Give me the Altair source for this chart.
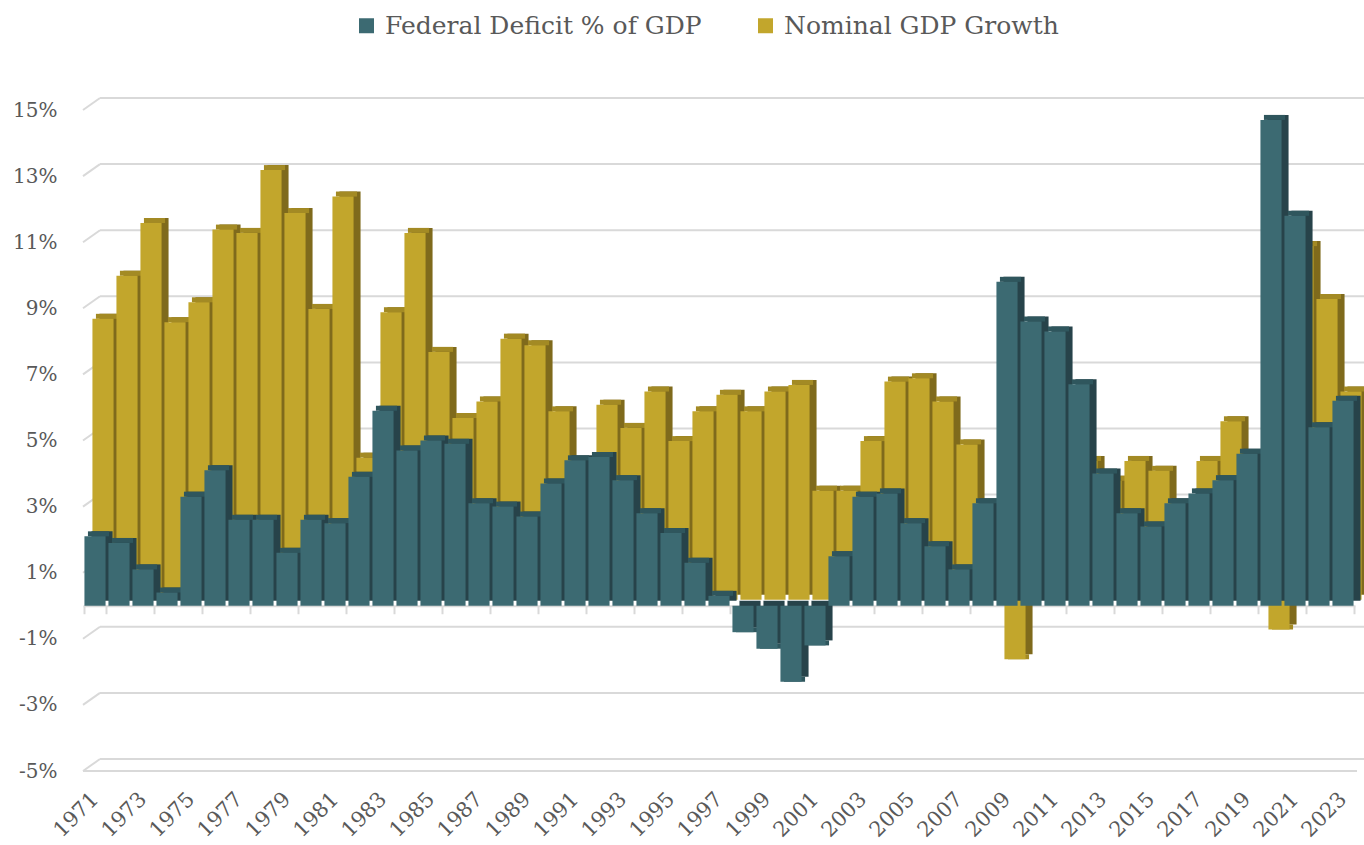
import altair as alt
import pandas as pd

years = list(range(1971, 2024))
deficit = [2.1, 1.9, 1.1, 0.4, 3.3, 4.1, 2.6, 2.6, 1.6, 2.6,
           2.5, 3.9, 5.9, 4.7, 5.0, 4.9, 3.1, 3.0, 2.7, 3.7,
           4.4, 4.5, 3.8, 2.8, 2.2, 1.3, 0.3, -0.8, -1.3, -2.3,
           -1.2, 1.5, 3.3, 3.4, 2.5, 1.8, 1.1, 3.1, 9.8, 8.6,
           8.3, 6.7, 4.0, 2.8, 2.4, 3.1, 3.4, 3.8, 4.6, 14.7,
           11.8, 5.4, 6.2]
growth = [8.5, 9.8, 11.4, 8.4, 9.0, 11.2, 11.1, 13.0, 11.7, 8.8,
          12.2, 4.3, 8.7, 11.1, 7.5, 5.5, 6.0, 7.9, 7.7, 5.7,
          3.3, 5.9, 5.2, 6.3, 4.8, 5.7, 6.2, 5.7, 6.3, 6.5,
          3.3, 3.3, 4.8, 6.6, 6.7, 6.0, 4.7, 2.0, -1.8, 3.9,
          3.7, 4.2, 3.6, 4.2, 3.9, 2.7, 4.2, 5.4, 4.2, -0.9,
          10.7, 9.1, 6.3]
series_names = ["Federal Deficit % of GDP", "Nominal GDP Growth"]
y_ticks = [-5, -3, -1, 1, 3, 5, 7, 9, 11, 13, 15]
label_years = [1971, 1973, 1975, 1977, 1979, 1981, 1983, 1985, 1987, 1989,
               1991, 1993, 1995, 1997, 1999, 2001, 2003, 2005, 2007, 2009,
               2011, 2013, 2015, 2017, 2019, 2021, 2023]

teal_df = pd.DataFrame({"year": years, "val": deficit, "series": series_names[0]})
gold_df = pd.DataFrame({"year": years, "val": growth, "series": series_names[1]})
grid_df = pd.DataFrame({"v": y_ticks})

W, H = 1272, 661
TEAL, TEAL_CAP, TEAL_SIDE = "#3C6A72", "#2F565D", "#27434A"
GOLD, GOLD_CAP, GOLD_SIDE = "#C2A62C", "#A38A24", "#7F6A1C"
GRID = "#D9D9D9"
FONT = "DejaVu Serif"
TXT = "#595959"

DEPTH_X, DEPTH_Y = 7, 5      # visible depth of each column
GOLD_DX, GOLD_DY = 8, 6      # gold series sits one row behind
WALL_DX, WALL_DY = 17, 12    # back wall offset

xscale = alt.Scale(domain=years, paddingInner=0.12, paddingOuter=0.06)
yscale = alt.Scale(domain=[-5, 15], nice=False, zero=False)

xaxis = alt.Axis(values=label_years, orient="bottom", offset=-165.25,
                 domainColor=GRID, domainWidth=2, tickColor=GRID, tickWidth=2,
                 tickSize=8, tickBand="extent", labelAngle=-45, labelAlign="right",
                 labelBaseline="middle", labelPadding=182, labelFont=FONT,
                 labelFontSize=21, labelColor=TXT, title=None, grid=False)
yaxis = alt.Axis(values=y_ticks, labelExpr="datum.value + '%'", domain=False,
                 ticks=False, tickSize=0, grid=False, labelPadding=26,
                 labelFont=FONT, labelFontSize=20, labelColor=TXT, title=None)


def X():
    return alt.X("year:O", scale=xscale, axis=xaxis)


def Y(field="val:Q"):
    return alt.Y(field, scale=yscale, axis=yaxis)


grid_back = alt.Chart(grid_df).mark_rule(
    color=GRID, strokeWidth=2, yOffset=-WALL_DY
).encode(y=Y("v:Q"), x=alt.value(WALL_DX), x2=alt.value(W + 9))

grid_slant = alt.Chart(grid_df).mark_rule(
    color=GRID, strokeWidth=2, y2Offset=-WALL_DY
).encode(y=Y("v:Q"), y2="v:Q", x=alt.value(0), x2=alt.value(WALL_DX))

front_floor = alt.Chart(grid_df).transform_filter("datum.v == -5").mark_rule(
    color=GRID, strokeWidth=2
).encode(y=Y("v:Q"), x=alt.value(0), x2=alt.value(W + 2))

cscale = alt.Scale(domain=series_names, range=[TEAL, GOLD])
legend = alt.Legend(orient="none", legendX=271, legendY=-97, direction="horizontal",
                    title=None, symbolType="square", symbolSize=225,
                    symbolStrokeWidth=0, labelFont=FONT, labelFontSize=25,
                    labelColor=TXT, columnPadding=51, labelOffset=6, labelLimit=0)


def layers(df, dx, dy, side, cap):
    side_l = alt.Chart(df).mark_bar(
        color=side, xOffset=dx + DEPTH_X, x2Offset=dx + DEPTH_X,
        yOffset=-dy - DEPTH_Y, y2Offset=-dy - DEPTH_Y
    ).encode(x=X(), y=Y(), y2=alt.datum(0))
    cap_l = alt.Chart(df).mark_bar(
        color=cap, xOffset=dx + DEPTH_X / 2, x2Offset=dx + DEPTH_X / 2,
        yOffset=-dy - DEPTH_Y, y2Offset=-dy
    ).encode(x=X(), y=Y(), y2="val:Q")
    front_l = alt.Chart(df).mark_bar(
        xOffset=dx, x2Offset=dx, yOffset=-dy, y2Offset=-dy
    ).encode(x=X(), y=Y(), y2=alt.datum(0),
             color=alt.Color("series:N", scale=cscale, legend=legend))
    return [side_l, cap_l, front_l]


chart = alt.layer(
    grid_back, grid_slant, front_floor,
    *layers(gold_df, GOLD_DX, GOLD_DY, GOLD_SIDE, GOLD_CAP),
    *layers(teal_df, 0, 0, TEAL_SIDE, TEAL_CAP),
).properties(
    width=W, height=H,
    padding={"left": 83, "top": 110, "right": 9, "bottom": 74},
    autosize=alt.AutoSizeParams(type="none"),
).configure_view(stroke=None)

chart.save("out.html", embed_options={"renderer": "svg", "actions": False})
